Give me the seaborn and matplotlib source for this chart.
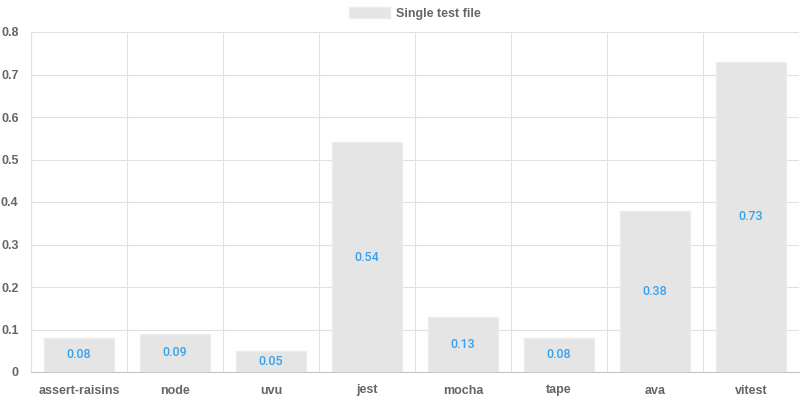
import seaborn as sns
import pandas as pd
import matplotlib.pyplot as plt
import numpy as np

runners = ['assert-raisins', 'node', 'uvu', 'jest', 'mocha', 'tape', 'ava', 'vitest']
single_file = [0.08, 0.09, 0.05, 0.54, 0.13, 0.08, 0.38, 0.73]
y_ticks = [0, 0.1, 0.2, 0.3, 0.4, 0.5, 0.6, 0.7, 0.8]
y_labels = ['0', '0.1', '0.2', '0.3', '0.4', '0.5', '0.6', '0.7', '0.8']

sns.set_style('white')
plt.rcParams['font.family'] = ['Liberation Sans', 'DejaVu Sans']

df = pd.DataFrame({'runner': runners, 'seconds': single_file})

fig = plt.figure(figsize=(8, 4), dpi=100)
ax = fig.add_axes([31 / 800, 28 / 400, 768 / 800, 340 / 400])

sns.barplot(data=df, x='runner', y='seconds', color='#e5e5e5', width=0.72,
            saturation=1, edgecolor='#ececec', linewidth=1,
            label='Single test file', ax=ax, zorder=2)

# value labels sit in the middle of each bar
for i, v in enumerate(single_file):
    ax.text(i, v / 2, f'{v:.2f}', ha='center', va='center', color='#36a2eb',
            fontsize=9, fontweight='medium', family='Roboto', zorder=3)

grid_c = '#e1e1e1'
ax.set_xlim(-0.5, len(runners) - 0.5)
ax.set_ylim(0, 0.8)
ax.set_yticks(y_ticks)
ax.set_yticklabels(y_labels)
ax.set_xticks(np.arange(len(runners) + 1) - 0.5, minor=True)
ax.tick_params(axis='x', which='major', length=0, pad=9, labelsize=9, labelcolor='#666666')
ax.tick_params(axis='x', which='minor', length=6, color=grid_c, width=0.8)
ax.tick_params(axis='y', length=6, color=grid_c, width=0.8, pad=3, labelsize=9, labelcolor='#666666')
for lab in ax.get_xticklabels() + ax.get_yticklabels():
    lab.set_fontweight('bold')
ax.grid(axis='y', color=grid_c, linewidth=0.8, zorder=0)
ax.grid(axis='x', which='minor', color=grid_c, linewidth=0.8, zorder=0)
ax.set_axisbelow(True)
for side in ['top', 'right']:
    ax.spines[side].set_visible(False)
ax.spines['left'].set_color(grid_c)
ax.spines['bottom'].set_color('#c8c8c8')
ax.set_xlabel('')
ax.set_ylabel('')

ax.legend(loc='center', bbox_to_anchor=(0.5, 1.055), frameon=False,
          labelcolor='#666666', handlelength=3.3, handleheight=1.0, handletextpad=0.5,
          prop={'weight': 'bold', 'size': 9, 'family': 'Liberation Sans'})

fig.savefig('out.png', dpi=100)
